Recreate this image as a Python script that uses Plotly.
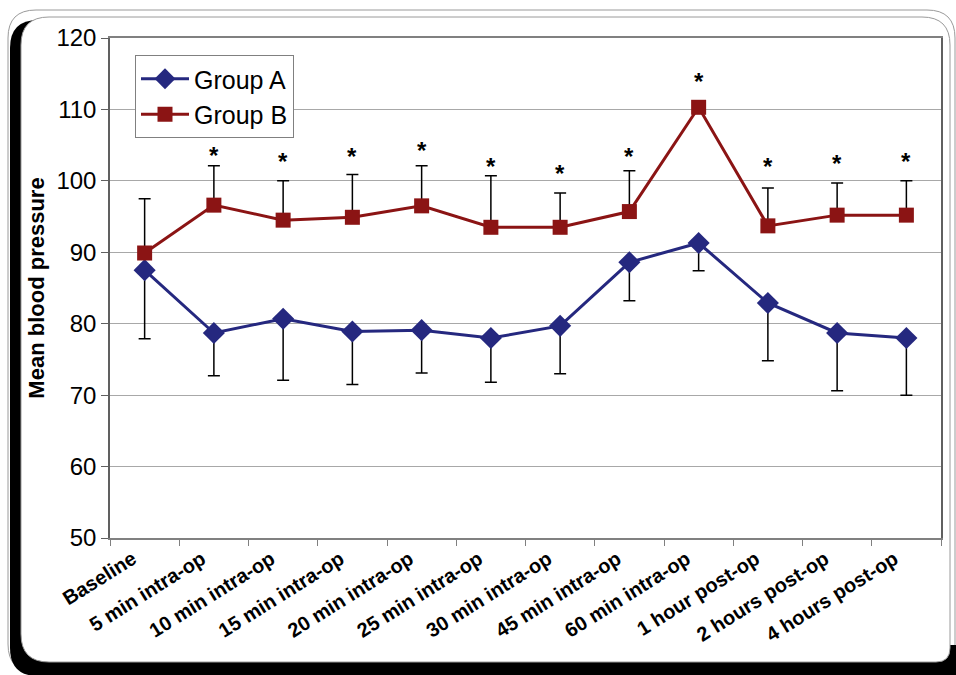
import plotly.graph_objects as go

categories = ["Baseline", "5 min intra-op", "10 min intra-op", "15 min intra-op",
              "20 min intra-op", "25 min intra-op", "30 min intra-op", "45 min intra-op",
              "60 min intra-op", "1 hour post-op", "2 hours post-op", "4 hours post-op"]
group_a = [87.5, 78.7, 80.7, 78.9, 79.1, 78.0, 79.7, 88.6, 91.3, 82.9, 78.7, 78.0]
group_a_err_minus = [9.6, 6.0, 8.6, 7.4, 6.0, 6.2, 6.7, 5.4, 3.9, 8.1, 8.1, 8.0]
group_b = [89.9, 96.6, 94.5, 94.9, 96.5, 93.5, 93.5, 95.7, 110.3, 93.7, 95.2, 95.2]
group_b_err_plus = [7.6, 5.5, 5.5, 6.0, 5.6, 7.2, 4.8, 5.7, 0.0, 5.3, 4.5, 4.8]
# level of the significance asterisk above Group B (None = not significant)
star_level = [None, 104.0, 103.1, 103.9, 104.7, 102.5, 101.5, 103.9, 114.4, 102.4, 102.8, 103.2]
y_ticks = [50, 60, 70, 80, 90, 100, 110, 120]

BLUE = "#25287F"
RED = "#8B1414"

# plot area in pixels
L, R, T, B = 110, 941, 38, 538
W, H = 956, 675


def px(x):
    return (x - L) / (R - L)


def py(y):
    return (B - y) / (B - T)


def rrect(x0, y0, x1, y1, r, rb=None):
    rb = r if rb is None else rb
    return (f"M {px(x0 + r)} {py(y0)} L {px(x1 - r)} {py(y0)} "
            f"Q {px(x1)} {py(y0)} {px(x1)} {py(y0 + r)} "
            f"L {px(x1)} {py(y1 - rb)} Q {px(x1)} {py(y1)} {px(x1 - rb)} {py(y1)} "
            f"L {px(x0 + r)} {py(y1)} Q {px(x0)} {py(y1)} {px(x0)} {py(y1 - r)} "
            f"L {px(x0)} {py(y0 + r)} Q {px(x0)} {py(y0)} {px(x0 + r)} {py(y0)} Z")


fig = go.Figure()

fig.add_trace(go.Scatter(
    x=categories, y=group_a, name="Group A", mode="lines+markers",
    line=dict(color=BLUE, width=3),
    marker=dict(symbol="diamond", size=17, color=BLUE),
    error_y=dict(type="data", symmetric=False, array=[0] * len(group_a),
                 arrayminus=group_a_err_minus, color="black", thickness=1.5, width=6),
))
fig.add_trace(go.Scatter(
    x=categories, y=group_b, name="Group B", mode="lines+markers",
    line=dict(color=RED, width=3),
    marker=dict(symbol="square", size=15, color=RED),
    error_y=dict(type="data", symmetric=False, array=group_b_err_plus,
                 arrayminus=[0] * len(group_b), color="black", thickness=1.5, width=6),
))

for c, s in zip(categories, star_level):
    if s is not None:
        fig.add_annotation(x=c, y=s, text="<b>*</b>", showarrow=False, yshift=-3,
                           font=dict(family="Liberation Sans, Arial", size=24, color="black"))

shapes = [
    dict(type="path", xref="paper", yref="paper", path=rrect(8, 10, 955, 672, 28),
         line=dict(color="#9a9a9a", width=1), fillcolor="rgba(0,0,0,0)", layer="below"),
    dict(type="path", xref="paper", yref="paper", path=rrect(10, 20, 946, 676, 28),
         line=dict(width=0), fillcolor="black", layer="below"),
    dict(type="rect", xref="paper", yref="paper", x0=px(40), x1=px(957), y0=py(676), y1=py(645),
         line=dict(width=0), fillcolor="black", layer="below"),
    dict(type="path", xref="paper", yref="paper", path=rrect(21, 17, 950, 662, 28, 14),
         line=dict(color="#9a9a9a", width=1), fillcolor="white", layer="below"),
]

fig.update_layout(
    width=W, height=H,
    margin=dict(l=L, r=W - R, t=T, b=H - B),
    paper_bgcolor="white", plot_bgcolor="rgba(0,0,0,0)",
    font=dict(family="Liberation Sans, Arial", color="black"),
    shapes=shapes,
    showlegend=True,
    legend=dict(x=px(135), y=py(55), xanchor="left", yanchor="top",
                bgcolor="white", bordercolor="#808080", borderwidth=1, itemwidth=48,
                font=dict(size=25, color="black"), tracegroupgap=0),
    xaxis=dict(type="category", categoryorder="array", categoryarray=categories,
               tickson="boundaries", ticks="outside", ticklen=6, tickcolor="#808080",
               showline=True, linecolor="#808080", linewidth=1.5, mirror=True,
               showgrid=False, tickangle=-32, ticklabelshift=-12,
               tickfont=dict(size=20, family="Liberation Sans, Arial", color="black"),
               range=[-0.5, len(categories) - 0.5]),
    yaxis=dict(range=[50, 120], tickvals=y_ticks, ticks="outside", ticklen=7,
               tickcolor="#606060", showline=True, linecolor="#606060", linewidth=1.5,
               mirror=True, showgrid=True, gridcolor="#a8a8a8", gridwidth=1,
               tickfont=dict(size=24, color="black"),
               title=dict(text="<b>Mean blood pressure</b>", font=dict(size=22, color="black"),
                          standoff=6)),
)
fig.update_xaxes(tickprefix="<b>", ticksuffix="</b>")

fig.write_html("out.html", config={"displayModeBar": False},
               post_script="document.body.style.margin='0';")
